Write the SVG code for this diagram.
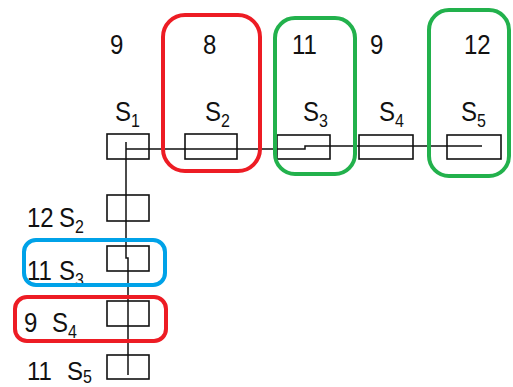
<svg xmlns="http://www.w3.org/2000/svg" width="513" height="387" viewBox="0 0 513 387">
<style>
.t{font-family:"Liberation Sans",Arial,sans-serif;font-size:24px;fill:#111}
.s{font-size:16px}
.box{fill:none;stroke:#111;stroke-width:1.6}
.ln{fill:none;stroke:#111;stroke-width:1.5}
.hl{fill:none;stroke-width:4}
</style>
<rect width="513" height="387" fill="#fff"/>
<g id="connectors">
<path class="ln" d="M126,149 H305 V146 H482"/>
<path class="ln" d="M126,142 V258 H128 V375"/>
</g>
<g id="top-S1">
<rect class="box" x="107" y="134" width="42" height="25"/>
<text class="t" transform="translate(110,54) scale(1,1.15)">9</text>
<text class="t" transform="translate(115,121) scale(1,1.15)">S<tspan class="s" dy="5">1</tspan></text>
</g>
<g id="top-S2">
<rect class="box" x="185" y="134" width="52" height="25"/>
<text class="t" transform="translate(203,54) scale(1,1.15)">8</text>
<text class="t" transform="translate(205,121) scale(1,1.15)">S<tspan class="s" dy="5">2</tspan></text>
</g>
<g id="top-S3">
<rect class="box" x="277" y="135" width="53" height="24"/>
<text class="t" transform="translate(292,54) scale(1,1.15)">11</text>
<text class="t" transform="translate(303,121) scale(1,1.15)">S<tspan class="s" dy="5">3</tspan></text>
</g>
<g id="top-S4">
<rect class="box" x="359" y="135" width="54" height="24"/>
<text class="t" transform="translate(370,54) scale(1,1.15)">9</text>
<text class="t" transform="translate(379,121) scale(1,1.15)">S<tspan class="s" dy="5">4</tspan></text>
</g>
<g id="top-S5">
<rect class="box" x="447" y="135" width="54" height="24"/>
<text class="t" transform="translate(464,54) scale(1,1.15)">12</text>
<text class="t" transform="translate(461,121) scale(1,1.15)">S<tspan class="s" dy="5">5</tspan></text>
</g>
<g id="left-S2">
<rect class="box" x="107" y="195" width="42" height="26"/>
<text class="t" transform="translate(27,227) scale(1,1.15)">12</text>
<text class="t" transform="translate(59,227) scale(1,1.15)">S<tspan class="s" dy="5">2</tspan></text>
</g>
<g id="left-S3">
<rect class="box" x="107" y="246" width="42" height="25"/>
<text class="t" transform="translate(27,280) scale(1,1.15)">11</text>
<text class="t" transform="translate(59,280) scale(1,1.15)">S<tspan class="s" dy="5">3</tspan></text>
</g>
<g id="left-S4">
<rect class="box" x="107" y="301" width="42" height="25"/>
<text class="t" transform="translate(24,332) scale(1,1.15)">9</text>
<text class="t" transform="translate(52,332) scale(1,1.15)">S<tspan class="s" dy="5">4</tspan></text>
</g>
<g id="left-S5">
<rect class="box" x="107" y="355" width="42" height="24"/>
<text class="t" transform="translate(27,380) scale(1,1.1)">11</text>
<text class="t" transform="translate(67,380) scale(1,1.1)">S<tspan class="s" dy="3">5</tspan></text>
</g>
<g id="highlights">
<rect class="hl" x="163" y="15" width="97" height="156" rx="22" stroke="#ed1c24"/>
<rect class="hl" x="275" y="18" width="80" height="156" rx="20" stroke="#22b14c"/>
<rect class="hl" x="429" y="10" width="80" height="166" rx="20" stroke="#22b14c"/>
<rect class="hl" x="24" y="240" width="141" height="45" rx="12" stroke="#00a2e8"/>
<rect class="hl" x="15" y="297" width="151" height="44" rx="12" stroke="#ed1c24"/>
</g>
</svg>
